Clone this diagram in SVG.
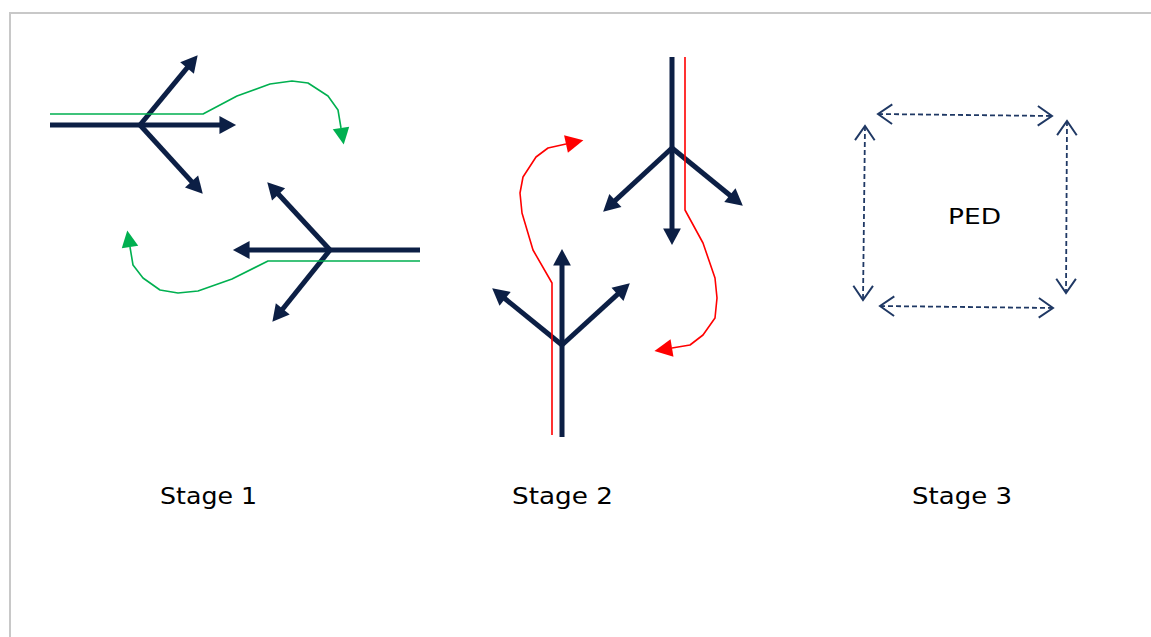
<svg xmlns="http://www.w3.org/2000/svg" width="1151" height="637" viewBox="0 0 1151 637">
<style>
.bd{fill:none;stroke:#c8c8c8;stroke-width:2}
.nv{fill:none;stroke:#0c1f45;stroke-width:5}
.nva{fill:none;stroke:#0c1f45;stroke-width:5;marker-end:url(#ah)}
.gr{fill:none;stroke:#00b050;stroke-width:1.6;stroke-linejoin:round;marker-end:url(#ag)}
.rd{fill:none;stroke:#ff0000;stroke-width:1.6;stroke-linejoin:round;marker-end:url(#ar)}
.ds{fill:none;stroke:#1f3864;stroke-width:1.8;stroke-dasharray:5,3;marker-start:url(#ao);marker-end:url(#ao)}
.lb{font-family:"DejaVu Sans","Verdana",sans-serif;font-size:23px;fill:#000}
.pd{font-family:"DejaVu Sans","Verdana",sans-serif;font-size:21px;fill:#000}
</style>
<defs>
<marker id="ah" markerUnits="userSpaceOnUse" markerWidth="20" markerHeight="20" viewBox="0 -9 16 18" refX="5" refY="0" orient="auto"><path d="M0,-8 L15,0 L0,8 z" fill="#0c1f45"/></marker>
<marker id="ag" markerUnits="userSpaceOnUse" markerWidth="20" markerHeight="20" viewBox="0 -9 16 18" refX="0" refY="0" orient="auto"><path d="M0,-7.5 L15,0 L0,7.5 z" fill="#00b050"/></marker>
<marker id="ar" markerUnits="userSpaceOnUse" markerWidth="20" markerHeight="20" viewBox="0 -9 17 18" refX="0" refY="0" orient="auto"><path d="M0,-8 L16,0 L0,8 z" fill="#ff0000"/></marker>
<marker id="ao" markerUnits="userSpaceOnUse" markerWidth="20" markerHeight="24" viewBox="-15 -11 17 22" refX="0" refY="0" orient="auto-start-reverse"><path d="M-13,-9 L0,0 L-13,9" fill="none" stroke="#1f3864" stroke-width="1.8"/></marker>
</defs>
<path class="bd" d="M10,637 L10,13 L1151,13"/>
<g id="connectors">
<g id="stage1-top">
<line class="nv" x1="50" y1="125" x2="140" y2="125"/>
<line class="nva" x1="140" y1="125" x2="225" y2="125"/>
<line class="nva" x1="140" y1="125" x2="190.6" y2="63.7"/>
<line class="nva" x1="140" y1="125" x2="195.3" y2="185.6"/>
<polyline class="gr" points="50,114 203,114 237,96 270,84 292,81 308,83 328,96 338,110 341,128"/>
</g>
<g id="stage1-bottom">
<line class="nv" x1="420" y1="250" x2="330" y2="250"/>
<line class="nva" x1="330" y1="250" x2="244" y2="250"/>
<line class="nva" x1="330" y1="250" x2="274.8" y2="190.3"/>
<line class="nva" x1="330" y1="250" x2="279.3" y2="313.2"/>
<polyline class="gr" points="420,261 268,261 232,279 198,291 178,293 160,290 143,278 133,265 130,247"/>
</g>
<g id="stage2-top">
<line class="nva" x1="672" y1="57" x2="672" y2="234"/>
<line class="nva" x1="672" y1="148" x2="611.3" y2="204.2"/>
<line class="nva" x1="672" y1="148" x2="734.2" y2="198.7"/>
<polyline class="rd" points="685,57 685,210 703,243 715,278 717,298 715,318 703,335 690,345 672,348"/>
</g>
<g id="stage2-bottom">
<line class="nva" x1="562" y1="437" x2="562" y2="260"/>
<line class="nva" x1="562" y1="345" x2="500.8" y2="295.3"/>
<line class="nva" x1="562" y1="345" x2="621.6" y2="290.7"/>
<polyline class="rd" points="552,435 552,283 533,250 522,213 520,193 523,177 536,157 548,148 566,144"/>
</g>
<g id="stage3">
<line class="ds" x1="878" y1="114" x2="1052" y2="116"/>
<line class="ds" x1="865" y1="126" x2="863" y2="300"/>
<line class="ds" x1="1067" y1="121" x2="1066" y2="293"/>
<line class="ds" x1="880" y1="306" x2="1053" y2="308"/>
</g>
</g>
<g id="label-ped"><text class="pd" x="948" y="224" textLength="53" lengthAdjust="spacingAndGlyphs">PED</text></g>
<g id="label-stage1"><text class="lb" x="160" y="504" textLength="97" lengthAdjust="spacingAndGlyphs">Stage 1</text></g>
<g id="label-stage2"><text class="lb" x="512" y="504" textLength="101" lengthAdjust="spacingAndGlyphs">Stage 2</text></g>
<g id="label-stage3"><text class="lb" x="912" y="504" textLength="100" lengthAdjust="spacingAndGlyphs">Stage 3</text></g>
</svg>
